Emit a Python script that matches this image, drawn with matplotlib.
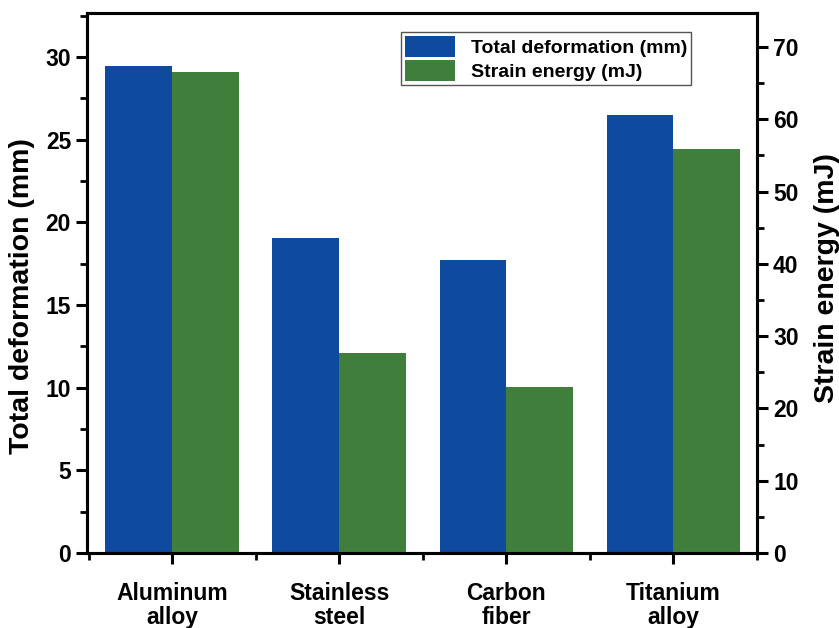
import numpy as np
import matplotlib.pyplot as plt
from matplotlib.ticker import MultipleLocator

materials = ['Aluminum\nalloy', 'Stainless\nsteel', 'Carbon\nfiber', 'Titanium\nalloy']
deformation_mm = [29.45, 19.05, 17.7, 26.5]
strain_energy_mj = [66.6, 27.6, 23.0, 55.9]

blue = '#0E4B9F'
green = '#3F7F3B'

plt.rcParams['font.family'] = ['Liberation Sans', 'DejaVu Sans']
plt.rcParams['font.weight'] = 'bold'

fig = plt.figure(figsize=(8.39, 6.28), dpi=100)
ax = fig.add_axes([0.1037, 0.1194, 0.7986, 0.8599])
ax2 = ax.twinx()

x = np.arange(len(materials))
w = 0.4
b1 = ax.bar(x - w / 2, deformation_mm, w, color=blue, label='Total deformation (mm)')
b2 = ax2.bar(x + w / 2, strain_energy_mj, w, color=green, label='Strain energy (mJ)')

ax.set_xlim(-0.51, 3.5)
ax.set_ylim(0, 32.67)
ax2.set_ylim(0, 74.7)

ax.set_xticks(x)
ax.set_xticklabels(materials, fontsize=18.5, fontweight='bold', linespacing=1.05)
ax.xaxis.set_minor_locator(MultipleLocator(0.5))
ax.yaxis.set_major_locator(MultipleLocator(5))
ax.yaxis.set_minor_locator(MultipleLocator(2.5))
ax2.yaxis.set_major_locator(MultipleLocator(10))
ax2.yaxis.set_minor_locator(MultipleLocator(5))

for a in (ax, ax2):
    for s in a.spines.values():
        s.set_linewidth(2.2)
    a.tick_params(which='major', direction='out', length=8, width=2.2, labelsize=16.5)
    a.tick_params(which='minor', direction='out', length=5, width=2.0)
ax.tick_params(axis='x', which='major', pad=13)
for lab in ax.get_yticklabels() + ax2.get_yticklabels():
    lab.set_fontweight('bold')

ax.set_ylabel('Total deformation (mm)', fontsize=20.5, fontweight='bold')
ax2.set_ylabel('Strain energy (mJ)', fontsize=20.5, fontweight='bold')
ax.yaxis.set_label_coords(-0.078, 0.476)
ax2.yaxis.set_label_coords(1.085, 0.509)

leg = fig.legend(handles=[b1, b2], loc='upper left',
                 bbox_to_anchor=(401 / 839, 1 - 32 / 628),
                 prop={'size': 14, 'weight': 'bold'}, handlelength=2.6,
                 handleheight=1.3, labelspacing=0.15, handletextpad=0.8,
                 borderpad=0.2, borderaxespad=0, fancybox=False,
                 framealpha=1, edgecolor='#555555')
leg.get_frame().set_linewidth(1.0)

fig.savefig('out.png', dpi=100)
